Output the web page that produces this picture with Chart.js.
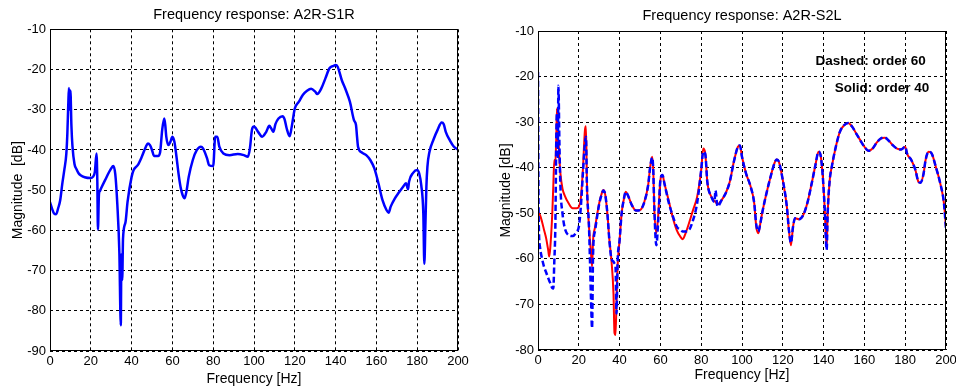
<!DOCTYPE html>
<html><head><meta charset="utf-8">
<script src="https://cdn.jsdelivr.net/npm/chart.js@4.4.1/dist/chart.umd.min.js"></script>
<style>
html,body{margin:0;padding:0;background:#fff;}
#wrap{position:relative;width:956px;height:390px;overflow:hidden;background:#fff;}
canvas{position:absolute;top:0;}
#c1{left:0;}#c2{left:478px;}
</style></head><body>
<div id="wrap"><canvas id="c1" width="478" height="390"></canvas><canvas id="c2" width="478" height="390"></canvas></div>
<script>
// ---------- data ----------
const freqS1R = [0,1,2,3,4,5,6,7,8,8.5,9,9.3,9.7,10,10.5,11,12,13,14,15,17,20,21,22,22.8,23.2,23.5,24,24.5,25,
  27,30,31,32,33,34,34.7,35,35.4,35.8,37,38,40,41,43,45,47,48,49,50,51,53,54,55,56,56.5,57,58,59,
  60,61,62,63,64,65,66,67,68,70,72,74,75,77,78,80,81,82,83,85,88,92,95,97,98,99,100,102,104,106,
  107.5,108.5,109.5,110.5,112,114,115,116,117.5,118.5,120,122,124,126,128,130,131,133,135,137,
  139,140,141,143,145,147,149,150,150.5,151,153,155,157,159,161,163,165,166,167,169,
  171,173,174.5,175.5,176,178,180,181,182,183,183.5,184,184.5,185,186,188,190,192,193,194,196,198,200];
const magS1R = [-53,-54.6,-55.8,-56,-54.5,-52.5,-48.5,-45,-41,-36,-28,-24.6,-30,-25.2,-34,-39,-43.5,-44.8,-45.8,-46.3,
  -46.8,-47,-46.7,-45.4,-40.9,-47.9,-59.8,-51,-50.2,-49.6,
  -47.5,-44.6,-44,-46,-53.5,-65.5,-83.6,-66,-72.4,-62,-58,-53,-46.7,-45,-43.8,-41.7,-39.2,-38.4,-38.8,
  -40,-41.5,-41.5,-40.5,-35,-32.2,-33.8,-36.7,-38.8,-38,
  -36.7,-38,-41.7,-45.9,-49.2,-51.2,-52,-50,-46.7,-42.5,-40,-39.2,-39.6,-42.1,-43.8,-44,-36.7,-36.7,-39.2,-40.9,
  -41.3,-41,-41.3,-41.7,-39.6,-35,-34.2,-35.5,-36.7,-35.5,
  -34,-34.7,-35.5,-33.6,-32.2,-31.6,-32.4,-34.6,-36.6,-34.2,-29.7,-28,-26.3,-25.3,-24.8,-25.5,-26.1,-24.7,-22.2,-19.7,
  -19.1,-18.9,-19.3,-22.6,-25.1,-28,-32.6,-33.8,-36.7,-39.2,-40.7,-41.3,-42.5,-44.6,-48.3,-52.5,-55,-55.6,-54.1,-52.1,
  -50.6,-49.2,-48.3,-49.8,-47.9,-45.7,-45,-45.9,-48.8,-55.8,-68.3,-59.1,-49.2,-44.2,-40.5,-37.4,-35,-33.2,-33.6,-35.5,-37.6,-39.2,-39.9];

const freqS2L = [0,0.3,1,2,3,4,5,5.5,6,7,7.5,8,8.5,9,9.3,9.7,10,10.5,11,12,13,15,17,19,20,21,22,23,23.5,24,
  25,26,26.5,27,28,30,31,32,33,34,35,36,37,37.5,38,38.5,39,40,41,42,43,44,46,48,50,52,54,55,56,56.5,
  57,58,59,60,61,62,64,66,68,70,71,72,74,76,78,80,81,82,83,85,86.5,87,88,90,92,94,96,98,99,100,
  102,104,106,107,108,109,110,112,114,116,117,118,120,122,123,124,125,126,128,130,132,134,136,137.5,138.5,139.5,
  140.5,141.5,142,143,144,146,148,150,152,154,156,158,160,162,164,166,168,170,172,174,176,178,180,181,
  183,185,186.5,187.5,189,190,191.5,193,195,197,199,200];
const magS2L_order40 = [-49.7,-50,-50.4,-51.9,-53.7,-55.5,-58.1,-59.5,-57.7,-50,-44,-38.3,-39,-32.5,-27,-34,-34.3,-38,-41.3,-44.6,-46,-47.8,-48.9,-48.9,-48.6,-46.7,-40.5,-31.8,-30.9,-43.5,
  -53,-58.8,-61.7,-55.9,-53,-47.8,-46,-44.9,-46,-50,-55.9,-60.3,-67.6,-76.3,-76.7,-69,-61.7,-55.9,-50,-47.1,-45.3,-46,-48.2,-49.4,-49.3,-47.7,-43.8,-39.8,-37.6,-40.5,
  -48.6,-54.4,-50,-42.7,-41.6,-43.5,-47.1,-50.8,-53.7,-55.3,-55.7,-54.8,-52.2,-49.3,-46.4,-40.5,-35.8,-36.9,-43.1,-46.4,-47.3,-47.5,-48,-47.1,-45.6,-43.1,-38.7,-35.4,-35.1,-37.6,
  -41.3,-43.8,-47.8,-53,-54.4,-52.2,-49.7,-45.6,-42,-38.9,-38.2,-38.6,-42.7,-48.6,-53.7,-57,-53,-51.1,-51.3,-50.4,-47.8,-43.8,-39.4,-36.5,-37.2,-41.3,
  -48.6,-57.7,-50,-42.7,-39.8,-35.4,-32.1,-30.7,-30.2,-31,-32.5,-34,-35.4,-36.3,-35.8,-34.5,-33.6,-33.4,-34.1,-35.1,-35.8,-36,-35.4,-37,
  -38.3,-40.5,-43.1,-43.3,-41.3,-38.3,-36.5,-36.9,-39.8,-43.1,-47.8,-53];
const magS2L_order60 = [-19,-50,-57.5,-60,-61.8,-63,-64.2,-64.8,-65.3,-66.4,-66.5,-60.5,-53,-32.5,-28,-38,-22,-34.7,-44.2,-50,-53,-54.8,-55,-54,-53,-48.6,-41.3,-34.7,-33.2,-44.2,
  -53,-69,-75.2,-58.8,-53.7,-48,-46.2,-45,-46,-50,-56,-60,-60.6,-61,-61.7,-72,-61,-55.9,-50,-47.1,-45.3,-46,-48.2,-49.4,-49.3,-47.7,-43.8,-39.8,-37.8,-40.5,
  -48.6,-57,-51,-42.7,-41.6,-43.5,-47.5,-50.5,-52.9,-53.7,-54,-54,-53.7,-51.5,-47.8,-40.5,-36.5,-37,-43.1,-46.4,-47.5,-45,-48.5,-47.1,-45.6,-43.1,-38.7,-35.4,-35.1,-37.6,
  -41.3,-43.8,-47.8,-52.5,-54,-52.2,-49.7,-45.6,-42,-38.9,-38.2,-38.6,-42.7,-48.6,-53.7,-56.5,-53,-51.1,-51.3,-50.4,-47.8,-43.8,-39.4,-36.5,-37.2,-41.3,
  -48.6,-58,-50,-42.7,-39.8,-35.4,-32.1,-30.7,-30.2,-31,-32.5,-34,-35.4,-36.3,-35.8,-34.5,-33.6,-33.4,-34.1,-35.1,-35.8,-36,-35.4,-37,
  -38.3,-40.5,-43.1,-43.3,-41.3,-38.3,-36.5,-36.9,-39.8,-43.1,-47.8,-53.5];

const freqTicks = [0,20,40,60,80,100,120,140,160,180,200];
const magTicksS1R = [-90,-80,-70,-60,-50,-40,-30,-20,-10];
const magTicksS2L = [-80,-70,-60,-50,-40,-30,-20,-10];
const titles = ['Frequency response: A2R-S1R','Frequency response: A2R-S2L'];
const yTitles = ['Magnitude  [dB]','Magnitude [dB]'];
const xTitle = 'Frequency [Hz]';
const noteTexts = ['Dashed: order 60','Solid: order 40'];

// ---------- drawing ----------
Chart.defaults.font.family = "'Liberation Sans', Arial, sans-serif";
Chart.defaults.color = '#000';

const toPts = (xs, ys) => xs.map((x, i) => ({x, y: ys[i]}));

const boxPlugin = {
  id: 'box',
  afterDatasetsDraw(chart) {
    const {ctx, chartArea: a} = chart;
    ctx.save();
    ctx.setLineDash([]);
    ctx.strokeStyle = '#000';
    ctx.lineWidth = 1;
    const l = Math.round(a.left) + 0.5, t = Math.round(a.top) + 0.5;
    const r = Math.round(a.right) - 0.5, b = Math.round(a.bottom) - 0.5;
    ctx.strokeRect(l, t, r - l, b - t);
    ctx.restore();
  }
};

const axTitlePlugin = {
  id: 'axTitle',
  afterDraw(chart) {
    const o = chart.options.plugins.axTitle;
    if (!o || !o.text) return;
    const {ctx, chartArea: a} = chart;
    ctx.save();
    ctx.fillStyle = '#000';
    ctx.font = "14.5px 'Liberation Sans', Arial, sans-serif";
    ctx.textAlign = 'center';
    ctx.textBaseline = 'middle';
    ctx.fillText(o.text, (a.left + a.right) / 2, o.y);
    ctx.restore();
  }
};

const notePlugin = {
  id: 'notes',
  afterDraw(chart) {
    const o = chart.options.plugins.notes;
    if (!o || !o.items || !o.items.length) return;
    const {ctx, scales} = chart;
    ctx.save();
    ctx.fillStyle = '#000';
    ctx.font = "bold 13.5px 'Liberation Sans', Arial, sans-serif";
    ctx.textAlign = 'left';
    ctx.textBaseline = 'middle';
    o.items.forEach(it => {
      ctx.fillText(it.text, scales.x.getPixelForValue(it.x), scales.y.getPixelForValue(it.y));
    });
    ctx.restore();
  }
};

function makeOptions(cfg) {
  return {
    responsive: false,
    animation: false,
    devicePixelRatio: 1,
    layout: {padding: {left: 0, right: cfg.padRight, top: cfg.padTop, bottom: 0}},
    plugins: {
      legend: {display: false},
      tooltip: {enabled: false},
      title: {display: false},
      axTitle: {text: cfg.title, y: cfg.titleY},
      notes: {items: cfg.notes || []}
    },
    scales: {
      x: {
        type: 'linear', min: 0, max: 200,
        afterBuildTicks: s => { s.ticks = freqTicks.map(v => ({value: v})); },
        afterFit: s => { s.height = cfg.xHeight; s.paddingLeft = 0; s.paddingRight = 0; },
        ticks: {autoSkip: false, maxRotation: 0, padding: 3, font: {size: 13}, color: '#000'},
        grid: {color: '#000', lineWidth: 1, drawTicks: false},
        border: {display: false, dash: [3, 3]},
        title: {display: true, text: xTitle, color: '#000', font: {size: 14},
          padding: {top: 0, bottom: cfg.xTitleBottom}}
      },
      y: {
        type: 'linear', min: cfg.yMin, max: -10,
        afterBuildTicks: s => { s.ticks = cfg.yTicks.map(v => ({value: v})); },
        afterFit: s => { s.width = cfg.yWidth; s.paddingTop = 0; s.paddingBottom = 0; },
        ticks: {padding: 4, font: {size: 13}, color: '#000'},
        grid: {color: '#000', lineWidth: 1, drawTicks: false},
        border: {display: false, dash: [3, 3]},
        title: {display: true, text: cfg.yTitle, color: '#000', font: {size: 14},
          padding: {top: cfg.yTitleTop, bottom: 0}}
      }
    }
  };
}

new Chart(document.getElementById('c1'), {
  type: 'line',
  data: {datasets: [{
    data: toPts(freqS1R, magS1R), borderColor: '#0000ff', borderWidth: 2.5,
    pointRadius: 0, fill: false, cubicInterpolationMode: 'monotone'
  }]},
  options: makeOptions({title: titles[0], titleY: 15, yTitle: yTitles[0], yMin: -90, yTicks: magTicksS1R,
    padRight: 20, padTop: 29.3, yWidth: 50, xHeight: 39, xTitleBottom: 2, yTitleTop: 10}),
  plugins: [boxPlugin, axTitlePlugin]
});

new Chart(document.getElementById('c2'), {
  type: 'line',
  data: {datasets: [
    {data: toPts(freqS2L, magS2L_order60), borderColor: '#0000ff', borderWidth: 2.5, borderDash: [6, 3],
      pointRadius: 0, fill: false, cubicInterpolationMode: 'monotone'},
    {data: toPts(freqS2L, magS2L_order40), borderColor: '#ff0000', borderWidth: 2,
      pointRadius: 0, fill: false, cubicInterpolationMode: 'monotone'}
  ]},
  options: makeOptions({title: titles[1], titleY: 16, yTitle: yTitles[1], yMin: -80, yTicks: magTicksS2L,
    padRight: 10, padTop: 31, yWidth: 60, xHeight: 40, xTitleBottom: 6, yTitleTop: 19.6,
    notes: [{text: noteTexts[0], x: 136, y: -16.6}, {text: noteTexts[1], x: 145.5, y: -22.6}]}),
  plugins: [boxPlugin, axTitlePlugin, notePlugin]
});
</script>
</body></html>
